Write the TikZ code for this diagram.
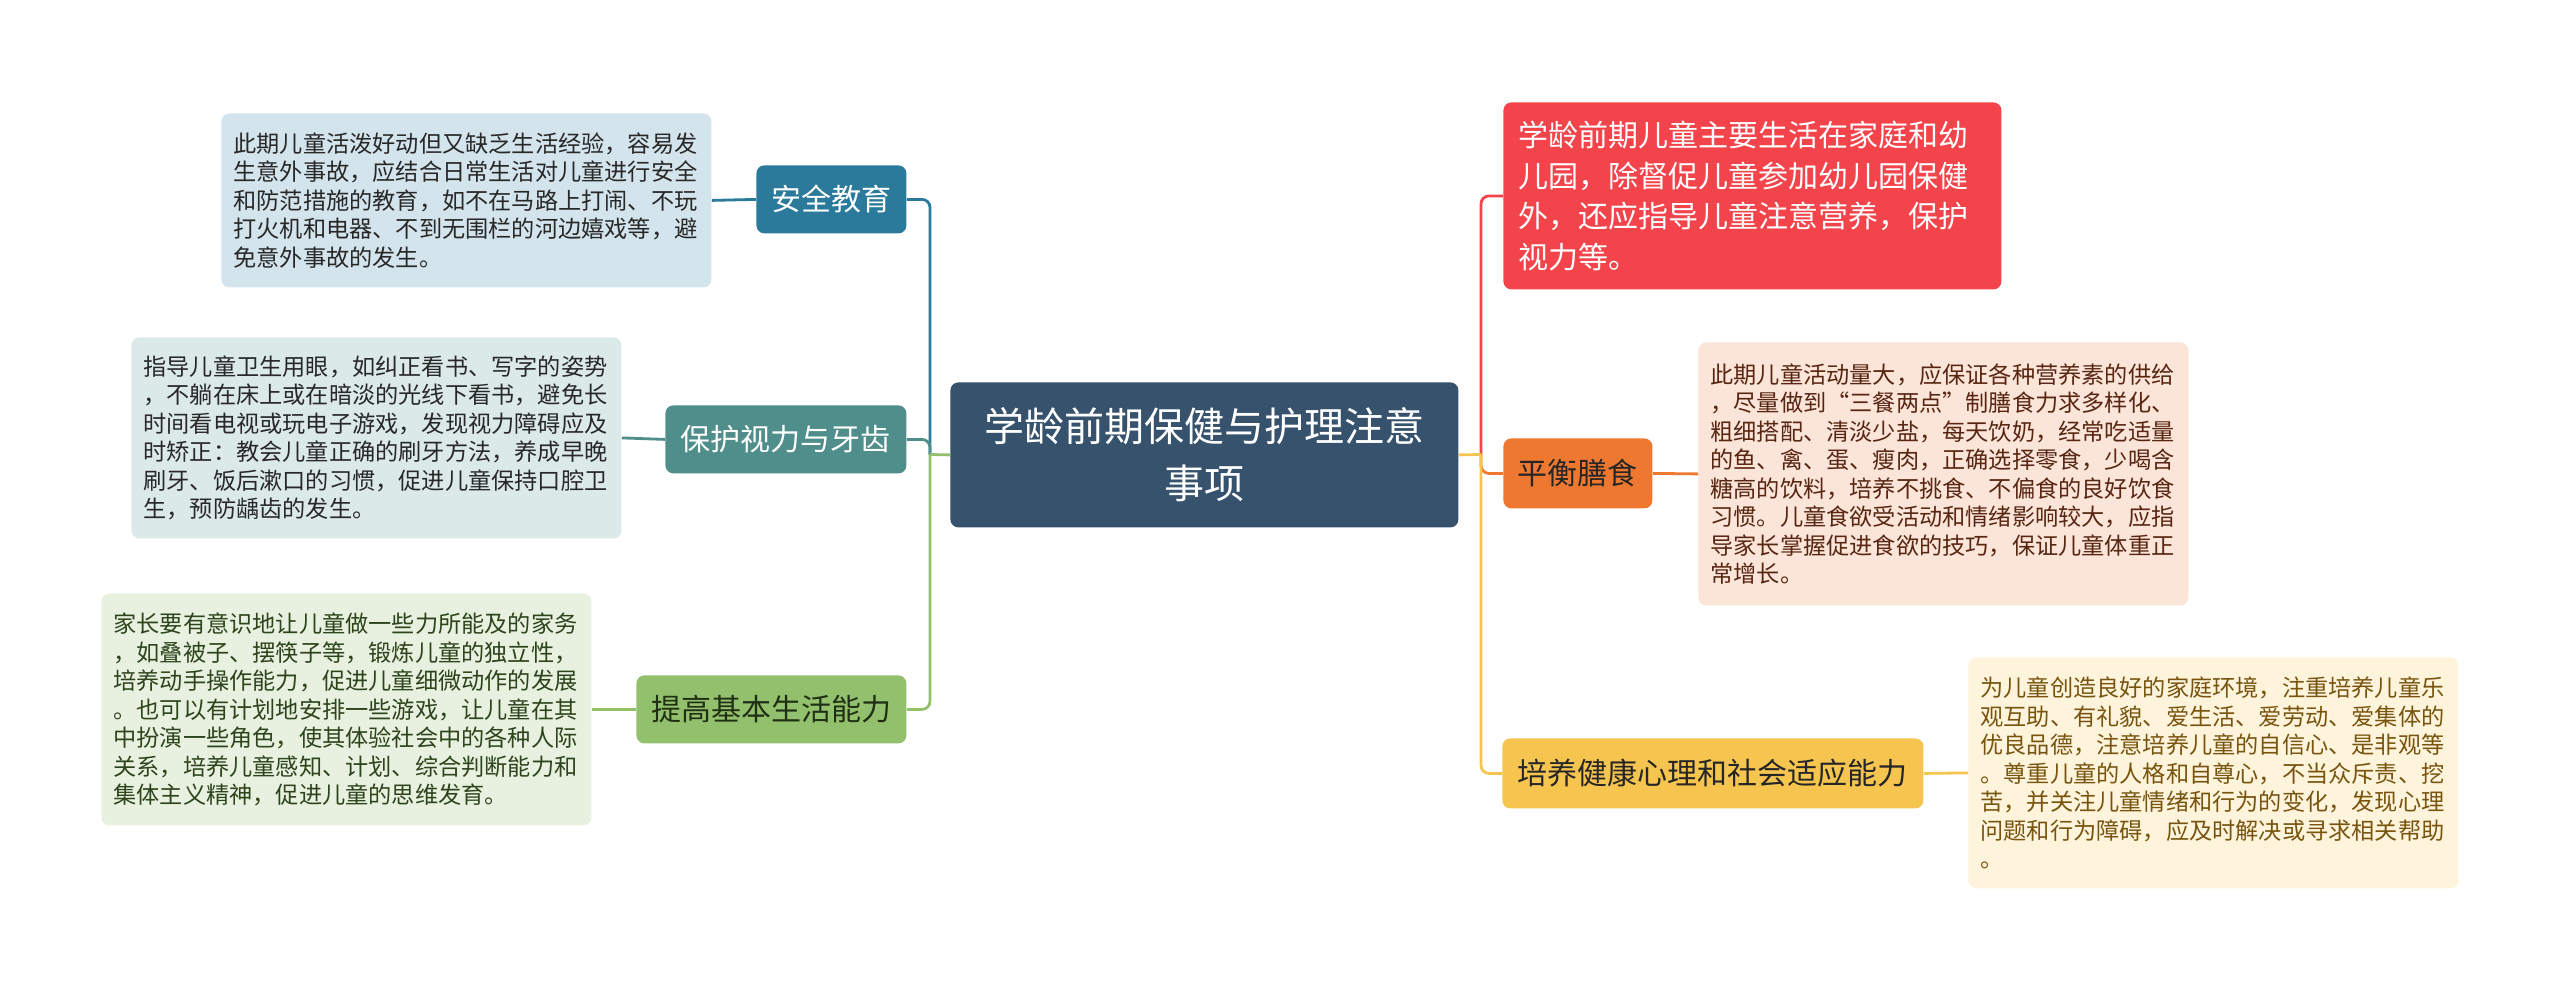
\documentclass[tikz,border=0pt]{standalone}
\usepackage{fontspec}
\newfontfamily\cjk{Noto Sans CJK SC}
\definecolor{hub}{RGB}{54,82,109}
\definecolor{safec}{RGB}{43,122,155}
\definecolor{safel}{RGB}{211,228,236}
\definecolor{eyec}{RGB}{79,142,138}
\definecolor{eyel}{RGB}{219,233,232}
\definecolor{lifec}{RGB}{147,192,108}
\definecolor{lifel}{RGB}{232,241,224}
\definecolor{lifet}{RGB}{45,68,28}
\definecolor{homec}{RGB}{242,68,74}
\definecolor{dietc}{RGB}{239,120,48}
\definecolor{dietl}{RGB}{251,228,216}
\definecolor{diett}{RGB}{88,38,18}
\definecolor{mindc}{RGB}{246,197,80}
\definecolor{mindl}{RGB}{254,244,220}
\definecolor{mindt}{RGB}{120,84,14}
\definecolor{ink}{RGB}{40,40,40}

\begin{document}
\begin{tikzpicture}[x=0.5pt,y=-0.5pt,font=\cjk,
  topic/.style={rounded corners=4pt,anchor=north west,inner sep=0pt,font=\cjk\fontsize{15}{18}\selectfont},
  note/.style={rounded corners=4pt,anchor=north west,text width=233pt,inner xsep=6pt,inner ysep=0pt,align=left,font=\cjk\fontsize{11.6}{14.25}\selectfont},
  link/.style={line width=1.4pt,rounded corners=4pt}]
 \useasboundingbox (0,0) rectangle (2560,991);
 % root
 \node[topic,fill=hub,text=white,minimum width=254pt,minimum height=72.5pt,align=center,
   font=\cjk\fontsize{20}{28.5}\selectfont] (root) at (950,382) {学龄前期保健与护理注意\\事项};
 % left topics
 \node[topic,fill=safec,text=white,minimum width=75pt,minimum height=34pt] (safe) at (756,165) {安全教育};
 \node[topic,fill=eyec,text=white,minimum width=120.5pt,minimum height=34pt] (eye) at (665,405) {保护视力与牙齿};
 \node[topic,fill=lifec,text=lifet!70!black,minimum width=135pt,minimum height=34pt] (life) at (636,675) {提高基本生活能力};
 % right topics
 \node[topic,fill=homec,text=white,text width=234pt,inner xsep=7.5pt,minimum height=93.5pt,align=left,
   font=\cjk\fontsize{15}{20.3}\selectfont] (home) at (1503,102)
   {学龄前期儿童主要生活在家庭和幼\\儿园，除督促儿童参加幼儿园保健\\外，还应指导儿童注意营养，保护\\视力等。};
 \node[topic,fill=dietc,text=black!85,minimum width=74.5pt,minimum height=35pt] (diet) at (1503,438) {平衡膳食};
 \node[topic,fill=mindc,text=black!85,minimum width=210.5pt,minimum height=35pt] (mind) at (1502,738) {培养健康心理和社会适应能力};
 % notes
 \node[note,fill=safel,text=ink,minimum height=87pt] (safenote) at (221,113)
   {此期儿童活泼好动但又缺乏生活经验，容易发\\生意外事故，应结合日常生活对儿童进行安全\\和防范措施的教育，如不在马路上打闹、不玩\\打火机和电器、不到无围栏的河边嬉戏等，避\\免意外事故的发生。};
 \node[note,fill=eyel,text=ink,minimum height=100.5pt] (eyenote) at (131,337)
   {指导儿童卫生用眼，如纠正看书、写字的姿势\\，不躺在床上或在暗淡的光线下看书，避免长\\时间看电视或玩电子游戏，发现视力障碍应及\\时矫正：教会儿童正确的刷牙方法，养成早晚\\刷牙、饭后漱口的习惯，促进儿童保持口腔卫\\生，预防龋齿的发生。};
 \node[note,fill=lifel,text=lifet,minimum height=116pt] (lifenote) at (101,593)
   {家长要有意识地让儿童做一些力所能及的家务\\，如叠被子、摆筷子等，锻炼儿童的独立性，\\培养动手操作能力，促进儿童细微动作的发展\\。也可以有计划地安排一些游戏，让儿童在其\\中扮演一些角色，使其体验社会中的各种人际\\关系，培养儿童感知、计划、综合判断能力和\\集体主义精神，促进儿童的思维发育。};
 \node[note,fill=dietl,text=diett,minimum height=131.5pt] (dietnote) at (1698,342)
   {此期儿童活动量大，应保证各种营养素的供给\\，尽量做到“三餐两点”制膳食力求多样化、\\粗细搭配、清淡少盐，每天饮奶，经常吃适量\\的鱼、禽、蛋、瘦肉，正确选择零食，少喝含\\糖高的饮料，培养不挑食、不偏食的良好饮食\\习惯。儿童食欲受活动和情绪影响较大，应指\\导家长掌握促进食欲的技巧，保证儿童体重正\\常增长。};
 \node[note,fill=mindl,text=mindt,minimum height=115.5pt] (mindnote) at (1968,657)
   {为儿童创造良好的家庭环境，注重培养儿童乐\\观互助、有礼貌、爱生活、爱劳动、爱集体的\\优良品德，注意培养儿童的自信心、是非观等\\。尊重儿童的人格和自尊心，不当众斥责、挖\\苦，并关注儿童情绪和行为的变化，发现心理\\问题和行为障碍，应及时解决或寻求相关帮助\\。};
 % branches
 \coordinate (jl) at (930,454.5);
 \coordinate (jr) at (1481,454.5);
 \draw[link,safec] (jl) |- (safe.east);
 \draw[link,eyec] (jl) |- (eye.east);
 \draw[link,lifec] (jl) |- (life.east);
 \draw[link,lifec] (root.west) -- (jl);
 \draw[link,homec] (jr) |- (home.west);
 \draw[link,dietc] (jr) |- (diet.west);
 \draw[link,mindc] (jr) |- (mind.west);
 \draw[link,mindc] (root.east) -- (jr);
 % topic to note
 \draw[link,safec] (safe.west) -- (safenote.east);
 \draw[link,eyec] (eye.west) -- (eyenote.east);
 \draw[link,lifec] (life.west) -- (lifenote.east);
 \draw[link,dietc] (diet.east) -- (dietnote.west);
 \draw[link,mindc] (mind.east) -- (mindnote.west);
\end{tikzpicture}
\end{document}
